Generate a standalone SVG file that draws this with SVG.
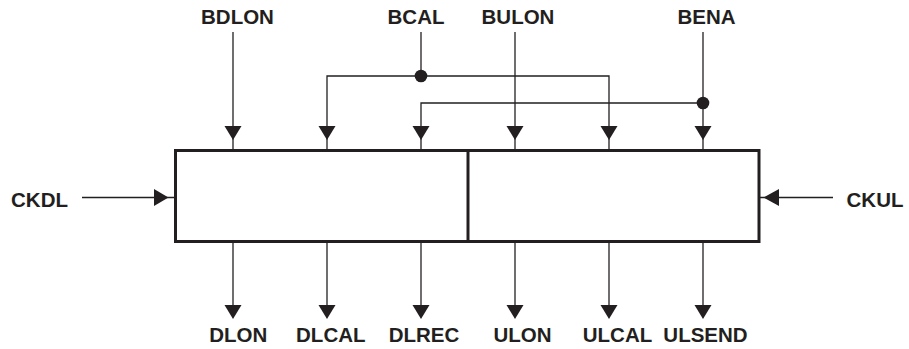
<svg xmlns="http://www.w3.org/2000/svg" xmlns:xlink="http://www.w3.org/1999/xlink" width="909" height="349" viewBox="0 0 909 349">
<style>
.w{stroke:#231f20;stroke-width:1.3;fill:none}
.box{stroke:#231f20;stroke-width:3;fill:none}
.ah{fill:#231f20}
text{font-family:"Liberation Sans",Arial,sans-serif;font-weight:bold;font-size:20.5px;fill:#231f20;text-anchor:middle}
</style>
<defs>
<path id="ad" d="M-8.5,-14 L8.5,-14 L0,0 z" class="ah"/>
</defs>
<g id="block">
<rect x="175.5" y="150.5" width="583.5" height="91" class="box"/>
<line x1="468" y1="150.5" x2="468" y2="241.5" class="box"/>
</g>
<g id="connectors">
<!-- top inputs -->
<line x1="233" y1="32" x2="233" y2="150" class="w"/>
<use xlink:href="#ad" x="233" y="140"/>
<line x1="515" y1="32" x2="515" y2="150" class="w"/>
<use xlink:href="#ad" x="515" y="140"/>
<!-- BCAL -->
<polyline points="421,32 421,76" class="w"/>
<polyline points="327,150 327,76 609,76 609,150" class="w"/>
<circle cx="421" cy="76" r="6.3" class="ah"/>
<use xlink:href="#ad" x="327" y="140"/>
<use xlink:href="#ad" x="609" y="140"/>
<!-- BENA -->
<polyline points="703,32 703,150" class="w"/>
<polyline points="421,150 421,103 703,103" class="w"/>
<circle cx="703" cy="103" r="6.3" class="ah"/>
<use xlink:href="#ad" x="421" y="140"/>
<use xlink:href="#ad" x="703" y="140"/>
<!-- side clocks -->
<line x1="82" y1="197.5" x2="175" y2="197.5" class="w"/>
<path d="M154,189 L168.5,197.5 L154,206 z" class="ah"/>
<line x1="833" y1="197.5" x2="760" y2="197.5" class="w"/>
<path d="M779,189 L763.5,197.5 L779,206 z" class="ah"/>
<!-- bottom outputs -->
<line x1="233" y1="242" x2="233" y2="312" class="w"/>
<use xlink:href="#ad" x="233" y="319"/>
<line x1="327" y1="242" x2="327" y2="312" class="w"/>
<use xlink:href="#ad" x="327" y="319"/>
<line x1="421" y1="242" x2="421" y2="312" class="w"/>
<use xlink:href="#ad" x="421" y="319"/>
<line x1="515" y1="242" x2="515" y2="312" class="w"/>
<use xlink:href="#ad" x="515" y="319"/>
<line x1="609" y1="242" x2="609" y2="312" class="w"/>
<use xlink:href="#ad" x="609" y="319"/>
<line x1="703" y1="242" x2="703" y2="312" class="w"/>
<use xlink:href="#ad" x="703" y="319"/>
</g>
<g id="labels">
<text x="237.5" y="24">BDLON</text>
<text x="416" y="24">BCAL</text>
<text x="518" y="24">BULON</text>
<text x="706.5" y="24">BENA</text>
<text x="39.5" y="206.5">CKDL</text>
<text x="875" y="206.5">CKUL</text>
<text x="238.3" y="341.5">DLON</text>
<text x="330.8" y="341.5">DLCAL</text>
<text x="424" y="341.5">DLREC</text>
<text x="522.5" y="341.5">ULON</text>
<text x="617.5" y="341.5">ULCAL</text>
<text x="705.5" y="341.5">ULSEND</text>
</g>
</svg>
